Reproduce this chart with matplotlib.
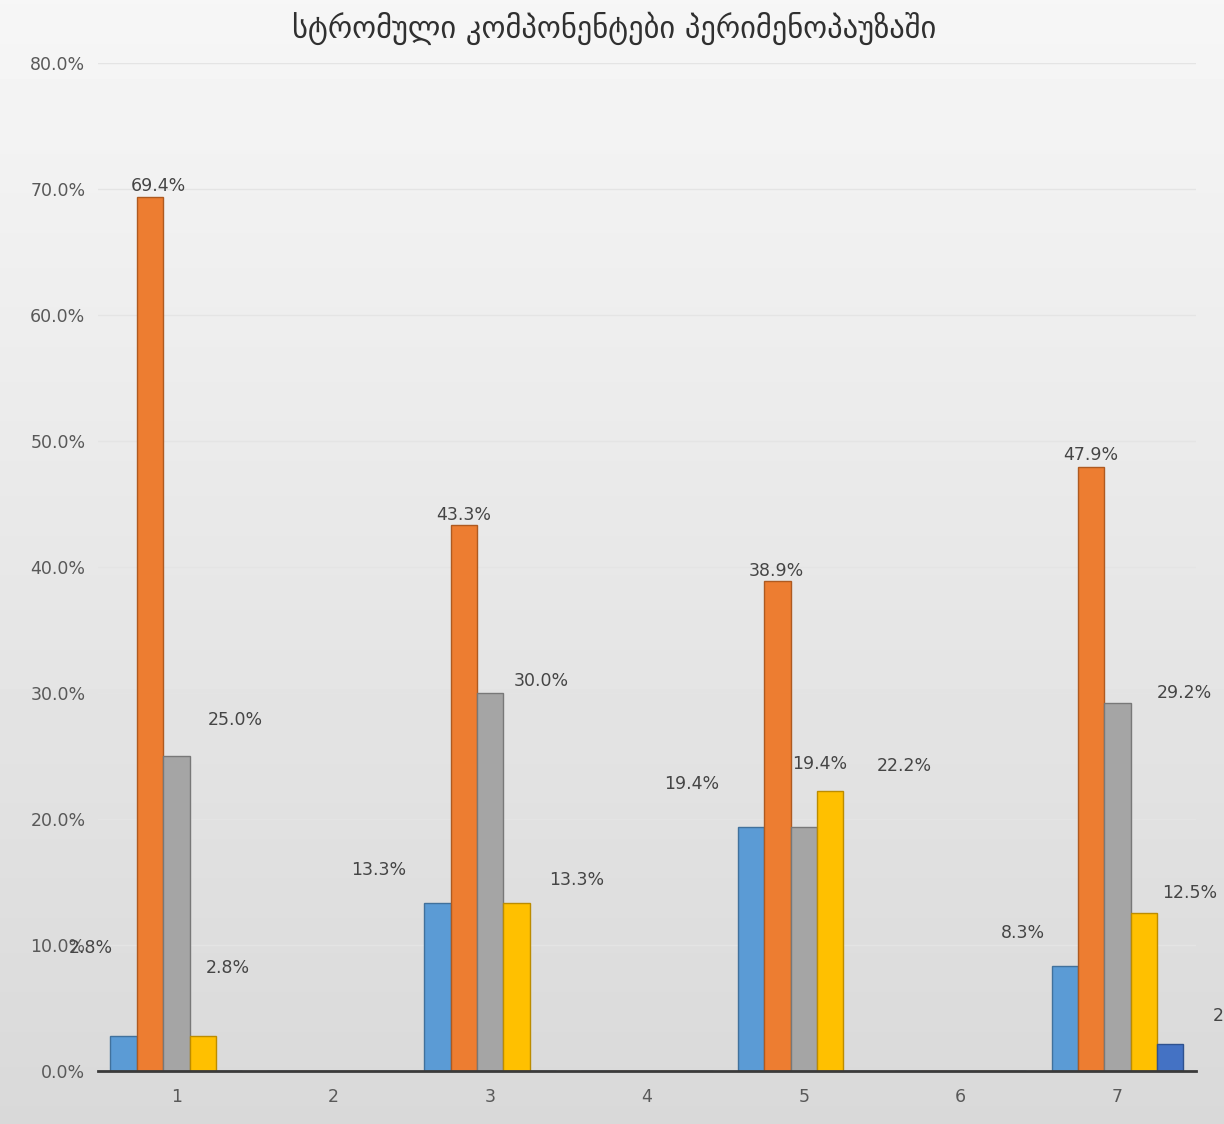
import numpy as np
import matplotlib.pyplot as plt
from matplotlib.ticker import PercentFormatter

# data
categories = ["1", "2", "3", "4", "5", "6", "7"]
s1 = [2.8, 0, 13.3, 0, 19.4, 0, 8.3]
s2 = [69.4, 0, 43.3, 0, 38.9, 0, 47.9]
s3 = [25.0, 0, 30.0, 0, 19.4, 0, 29.2]
s4 = [2.8, 0, 13.3, 0, 22.2, 0, 12.5]
s5 = [0, 0, 0, 0, 0, 0, 2.1]
title = "სტრომული კომპონენტები პერიმენოპაუზაში"

# label offsets (pixels) as Excel placed them
offsets = [
    [(-33, 88), None, (-59, 33), None, (-59, 43), None, (-42, 33)],
    [(8, 11), None, (0, 10), None, (-1, 10), None, (0, 12)],
    [(59, 36), None, (51, 12), None, (16, 63), None, (67, 10)],
    [(25, 68), None, (60, 23), None, (74, 25), None, (46, 20)],
    [None, None, None, None, None, None, (65, 28)],
]

colors = ["#5B9BD5", "#ED7D31", "#A5A5A5", "#FFC000", "#4472C4"]
edges = ["#41719C", "#AE5A21", "#787878", "#BC8C00", "#2F528F"]


def main() -> None:
    fig = plt.figure(figsize=(12.24, 11.24), dpi=100)
    bg = fig.add_axes([0, 0, 1, 1], zorder=-10)
    grad = np.linspace(0.965, 0.85, 256).reshape(-1, 1)
    bg.imshow(grad, cmap="gray", vmin=0, vmax=1, aspect="auto",
              extent=[0, 1, 0, 1])
    bg.axis("off")

    ax = fig.add_axes([0.0800, 0.0472, 0.8970, 0.8968])
    ax.set_facecolor("none")

    x = np.arange(1, len(categories) + 1)
    series = [s1, s2, s3, s4, s5]
    width = 0.168
    for i, vals in enumerate(series):
        pos = x + (i - 2) * width
        ax.bar(pos, vals, width=width, color=colors[i], edgecolor=edges[i],
               linewidth=1.0, zorder=3)
        for j, v in enumerate(vals):
            off = offsets[i][j]
            if off is None or v == 0:
                continue
            ax.annotate(f"{v:.1f}%", (pos[j], v), xytext=off,
                        textcoords="offset pixels", ha="center", va="center",
                        fontsize=12.5, color="#454545", zorder=4,
                        annotation_clip=False)

    ax.set_xlim(0.5, 7.5)
    ax.set_ylim(0, 80)
    ax.set_yticks(np.arange(0, 81, 10))
    ax.yaxis.set_major_formatter(PercentFormatter(decimals=1))
    ax.set_xticks(x)
    ax.set_xticklabels(categories)
    ax.tick_params(axis="both", length=0, labelsize=12.5, labelcolor="#595959")
    ax.tick_params(axis="y", pad=9)
    ax.tick_params(axis="x", pad=12)
    ax.grid(axis="y", color="#E4E4E4", linewidth=1.0, zorder=0)
    for side in ["top", "right", "left"]:
        ax.spines[side].set_visible(False)
    ax.spines["bottom"].set_color("#3A3A3A")
    ax.spines["bottom"].set_linewidth(2.0)
    ax.spines["bottom"].set_zorder(5)

    fig.text(0.502, 0.975, title, ha="center", va="center", fontsize=22,
             color="#303030", family="DejaVu Sans")

    fig.savefig("out.png", dpi=100)


if __name__ == "__main__":
    main()
